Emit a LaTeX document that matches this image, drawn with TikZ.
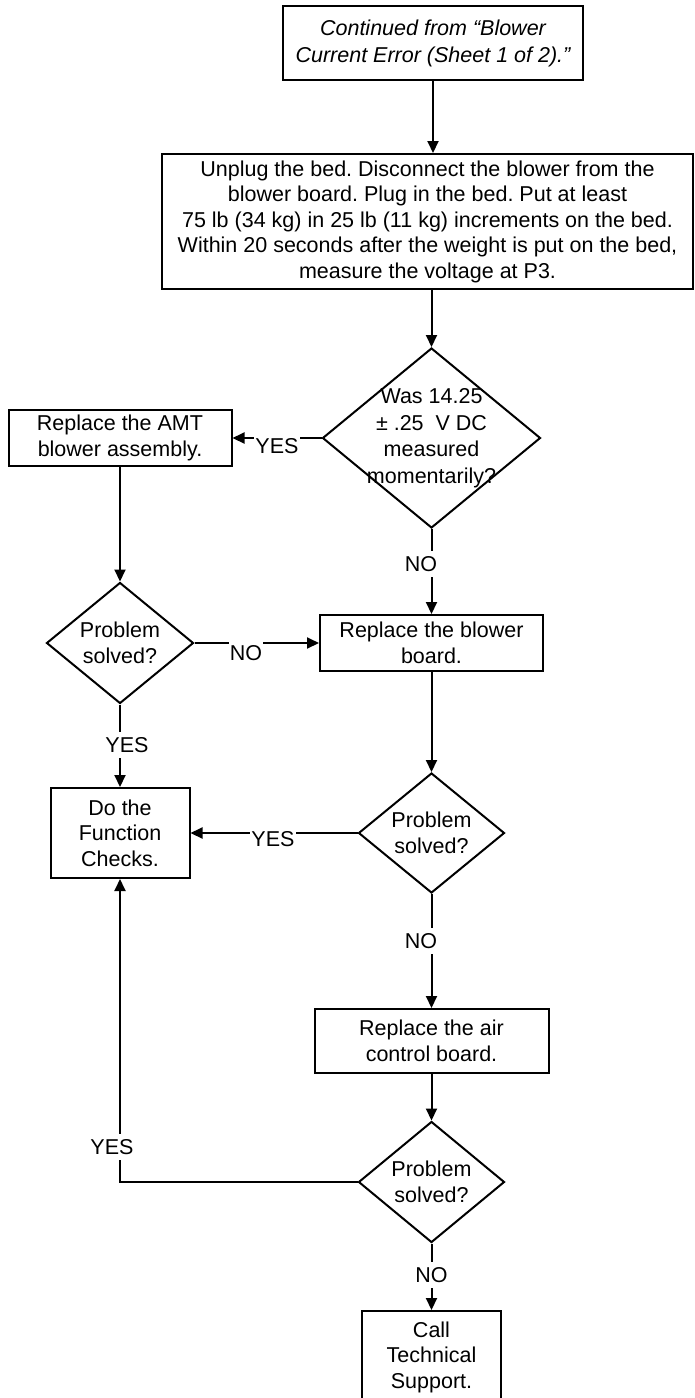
\documentclass[tikz,border=0pt]{standalone}
\usepackage{fontspec}
\setmainfont{Liberation Sans}
\usetikzlibrary{arrows.meta,shapes.geometric}
\frenchspacing
\begin{document}
\begin{tikzpicture}[x=1pt,y=-1pt,
  every node/.style={font=\fontsize{21.5}{25.5}\selectfont},
  box/.style={draw, line width=2pt, rectangle, inner sep=0pt, align=center},
  dia/.style={draw, line width=2pt, diamond, inner sep=0pt},
  qtext/.style={align=center, inner sep=0pt},
  flow/.style={draw, line width=2pt, -{Triangle[length=12pt,width=11pt]}},
  lab/.style={fill=white, inner xsep=1pt, inner ysep=5pt},
]
\useasboundingbox (0,0) rectangle (694,1398);
\clip (0,0) rectangle (694,1398);

% process boxes
\node[box, minimum width=300pt, minimum height=74pt,
      font=\fontsize{21.5}{27}\selectfont\itshape] (start) at (433,43)
  {Continued from “Blower\\Current Error (Sheet 1 of 2).”};
\node[box, minimum width=531pt, minimum height=135pt] (unplug) at (427.5,221.5)
  {Unplug the bed. Disconnect the blower from the\\
   blower board. Plug in the bed. Put at least\\
   75 lb (34 kg) in 25 lb (11 kg) increments on the bed.\\
   Within 20 seconds after the weight is put on the bed,\\
   measure the voltage at P3.};
\node[box, minimum width=223pt, minimum height=56pt] (amt) at (120,438)
  {Replace the AMT\\blower assembly.};
\node[box, minimum width=223pt, minimum height=56pt] (blower) at (431.5,643)
  {Replace the blower\\board.};
\node[box, minimum width=139pt, minimum height=90pt] (checks) at (120,833)
  {Do the\\Function\\Checks.};
\node[box, minimum width=234pt, minimum height=64pt] (air) at (431.5,1041)
  {Replace the air\\control board.};
\node[box, minimum width=139pt, minimum height=92pt] (support) at (431.5,1357)
  {Call\\Technical\\Support.};

% decisions
\node[dia, minimum width=218pt, minimum height=180pt] (volt) at (431.5,438) {};
\node[qtext, font=\fontsize{21.5}{26.5}\selectfont] (voltq) at (volt.center)
  {Was 14.25\\± .25\ \ V DC\\measured\\momentarily?};
\node[dia, minimum width=147pt, minimum height=121pt] (solvedA) at (120,643) {};
\node[qtext] (solvedAq) at (solvedA.center) {Problem\\solved?};
\node[dia, minimum width=146pt, minimum height=120pt] (solvedB) at (431.5,833) {};
\node[qtext] (solvedBq) at (solvedB.center) {Problem\\solved?};
\node[dia, minimum width=146pt, minimum height=121pt] (solvedC) at (431.5,1182) {};
\node[qtext] (solvedCq) at (solvedC.center) {Problem\\solved?};

% connectors
\path[flow] (start.south) -- (start.south |- unplug.north);
\path[flow] (volt.north |- unplug.south) -- (volt.north);
\path[flow] (volt.west) -- (amt.east);
\path[flow] (amt.south) -- (solvedA.north);
\path[flow] (volt.south) -- (blower.north);
\path[flow] (solvedA.east) -- (blower.west);
\path[flow] (solvedA.south) -- (checks.north);
\path[flow] (blower.south) -- (solvedB.north);
\path[flow] (solvedB.west) -- (checks.east);
\path[flow] (solvedB.south) -- (air.north);
\path[flow] (air.south) -- (solvedC.north);
\path[flow] (solvedC.west) -| (checks.south);
\path[flow] (solvedC.south) -- (support.north);

% branch labels
\node[lab] (yesA) at (277,446) {YES};
\node[lab] (noA) at (421,564) {NO};
\node[lab] (noB) at (246,653) {NO};
\node[lab] (yesB) at (127,745) {YES};
\node[lab] (yesC) at (273,839) {YES};
\node[lab] (noC) at (421,941) {NO};
\node[lab] (yesD) at (112,1147) {YES};
\node[lab] (noD) at (431.5,1275) {NO};
\end{tikzpicture}
\end{document}
